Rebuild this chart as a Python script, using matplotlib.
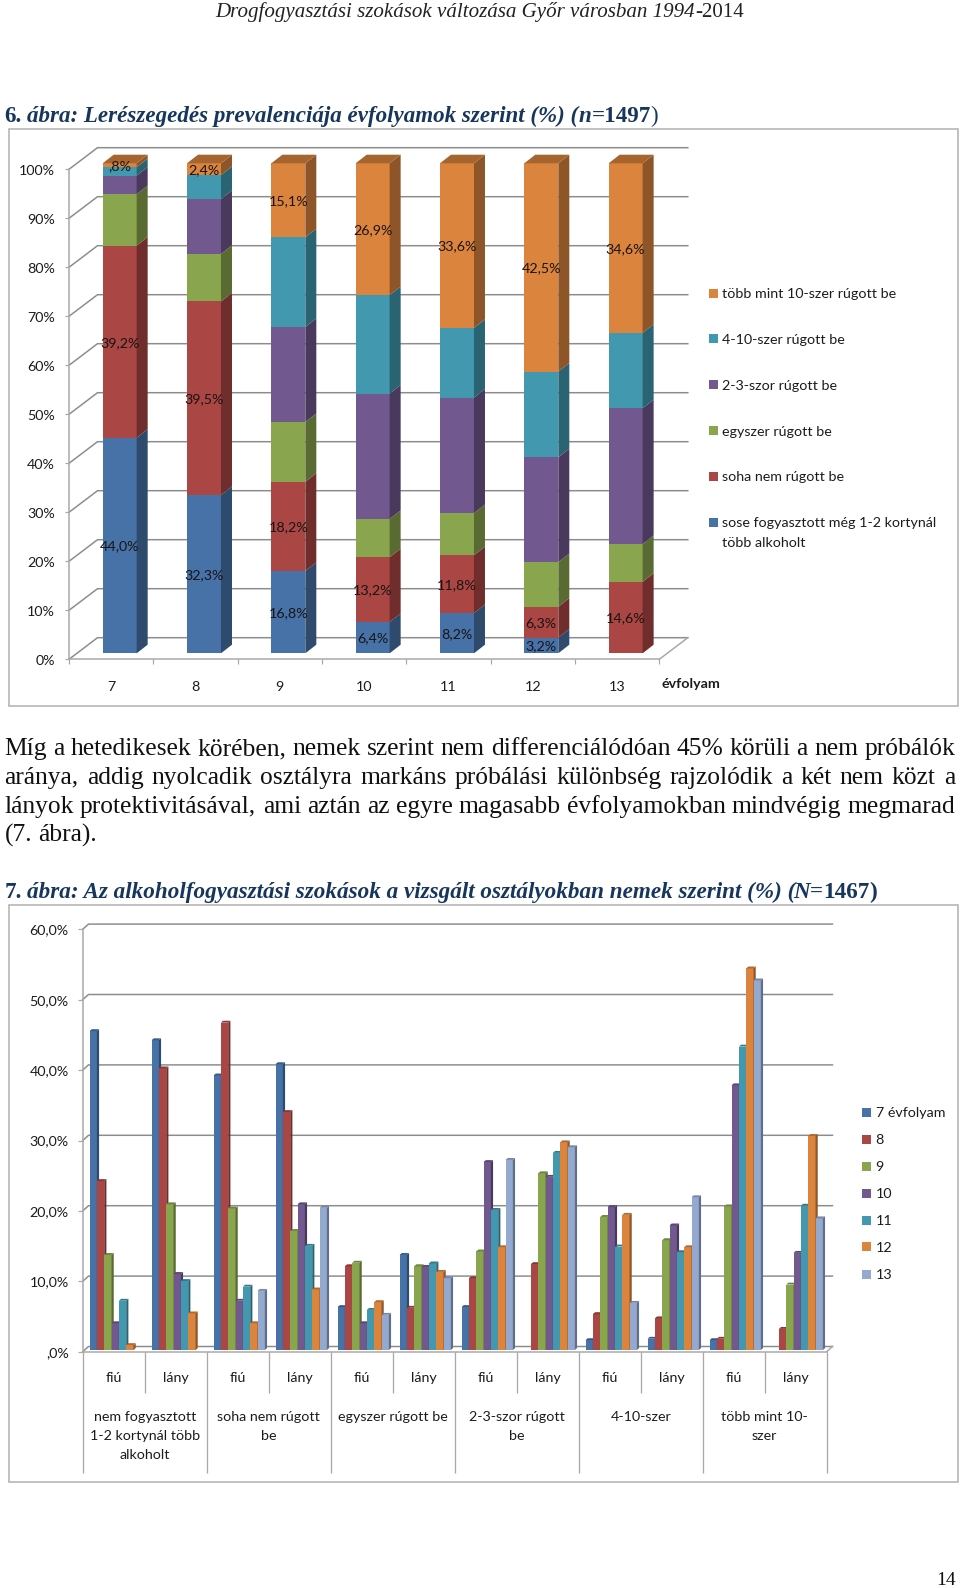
import matplotlib
matplotlib.use("Agg")
import matplotlib.pyplot as plt
import numpy as np
from matplotlib.font_manager import FontProperties
from matplotlib.patches import Polygon, Rectangle
from matplotlib.textpath import TextPath
from matplotlib.transforms import Affine2D

W, H = 960, 1588
PT = 0.72  # points per pixel at dpi 100

# ---------- chart 1 data (stacked, %) ----------
grades = ["7", "8", "9", "10", "11", "12", "13"]
sose = [44.0, 32.3, 16.8, 6.4, 8.2, 3.2, 0.0]
soha = [39.2, 39.5, 18.2, 13.2, 11.8, 6.3, 14.6]
egyszer = [10.5, 9.7, 12.2, 7.8, 8.6, 9.1, 7.7]
ketharom = [3.8, 11.2, 19.4, 25.6, 23.6, 21.4, 27.7]
negytiz = [1.7, 4.9, 18.3, 20.1, 14.2, 17.5, 15.4]
tobbmint = [0.8, 2.4, 15.1, 26.9, 33.6, 42.5, 34.6]
legend1_names = ["több mint 10-szer rúgott be", "4-10-szer rúgott be", "2-3-szor rúgott be",
                 "egyszer rúgott be", "soha nem rúgott be", "sose fogyasztott még 1-2 kortynál"]
legend1_extra = "több alkoholt"
yticks1 = [0, 10, 20, 30, 40, 50, 60, 70, 80, 90, 100]

# ---------- chart 2 data (grouped, %) ----------
sex = ["fiú", "lány"] * 6
groups = ["nem fogyasztott\n1-2 kortynál több\nalkoholt", "soha nem rúgott\nbe", "egyszer rúgott be",
          "2-3-szor rúgott\nbe", "4-10-szer", "több mint 10-\nszer"]
g7 = [45.3, 44.0, 39.0, 40.6, 6.1, 13.5, 6.1, 0.0, 1.4, 1.6, 1.4, 0.0]
g8 = [24.0, 40.0, 46.5, 33.8, 11.9, 6.0, 10.2, 12.2, 5.1, 4.5, 1.6, 3.0]
g9 = [13.5, 20.7, 20.1, 16.9, 12.4, 11.9, 14.0, 25.1, 18.9, 15.6, 20.4, 9.3]
g10 = [3.8, 10.8, 7.0, 20.7, 3.8, 11.8, 26.7, 24.6, 20.3, 17.7, 37.6, 13.8]
g11 = [7.0, 9.8, 9.0, 14.8, 5.7, 12.3, 19.9, 28.0, 14.7, 13.9, 43.1, 20.5]
g12 = [0.7, 5.2, 3.8, 8.6, 6.8, 11.1, 14.6, 29.5, 19.2, 14.6, 54.2, 30.4]
g13 = [0.0, 0.0, 8.4, 20.2, 5.0, 10.2, 27.0, 28.8, 6.7, 21.7, 52.5, 18.7]
legend2_names = ["7 évfolyam", "8", "9", "10", "11", "12", "13"]
yticks2 = [0, 10, 20, 30, 40, 50, 60]
yticklabels2 = [",0%", "10,0%", "20,0%", "30,0%", "40,0%", "50,0%", "60,0%"]

# ---------- text ----------
header_runs = [("Drogfogyasztási szokások változása Győr városban 1994", "i"), ("-2014", "r")]
title1_runs = [("6.", "b"), (" ábra: Lerészegedés prevalenciája évfolyamok szerint (%) (", "bi"),
               ("n", "bi"), ("=1497", "b"), (")", "r")]
title2_runs = [("7.", "b"), (" ábra: Az alkoholfogyasztási szokások a vizsgált osztályokban nemek szerint (%) (", "bi"),
               ("N=", "bi"), ("1467", "b"), (")", "b")]
para_lines = ["Míg a hetedikesek körében, nemek szerint nem differenciálódóan 45% körüli a nem próbálók",
              "aránya, addig nyolcadik osztályra markáns próbálási különbség rajzolódik a két nem közt a",
              "lányok protektivitásával, ami aztán az egyre magasabb évfolyamokban mindvégig megmarad",
              "(7. ábra)."]

# ---------- colours ----------
BLUE, RED, GREEN, PURPLE, TEAL, ORANGE, LBLUE = ("#4672A8", "#AA4643", "#89A54E", "#71588F",
                                                 "#4198AF", "#DB843D", "#93A9CF")
GRID = "#8c8c8c"
AXIS = "#a8a8a8"
TXT = "#1c1c1c"
TITLE = "#17365D"


def shade(c, f):
    r = np.array(matplotlib.colors.to_rgb(c)) * f
    return tuple(r)


def fp(kind):
    return FontProperties(family="Liberation Serif",
                          style="italic" if "i" in kind else "normal",
                          weight="bold" if "b" in kind else "normal")


def adv(s, kind="r", size=100.0, prop=None):
    p = prop or fp(kind)
    a = TextPath((0, 0), "x" + s + "x", size=size, prop=p).get_extents().width
    b = TextPath((0, 0), "xx", size=size, prop=p).get_extents().width
    return a - b


def fit_runs(runs, target):
    return 100.0 * target / sum(adv(s, k) for s, k in runs)


CAL = FontProperties(family="Lato")
CAL_PX = 100.0 * 174.0 / adv(legend1_names[0], prop=CAL)
CAL_PT = CAL_PX * PT

fig = plt.figure(figsize=(W / 100, H / 100), dpi=100, facecolor="white")
page = fig.add_axes([0, 0, 1, 1], zorder=0)
page.set_xlim(0, W)
page.set_ylim(H, 0)
page.axis("off")


def draw_runs(x, y, runs, size, color):
    for s, k in runs:
        page.text(x + (adv(" ", k, size) if s.startswith(" ") else 0), y, s.strip(), fontproperties=fp(k),
                  fontsize=size * PT, color=color, ha="left", va="baseline")
        x += adv(s, k, size)


draw_runs(215, 16.7, header_runs, fit_runs(header_runs, 529), "#222222")
draw_runs(4.3, 121.7, title1_runs, fit_runs(title1_runs, 654), TITLE)
draw_runs(4.3, 898.3, title2_runs, fit_runs(title2_runs, 873), TITLE)

BODY = 1.04 * 100.0 * 89.3 / adv(para_lines[3])
for line, base, just in zip(para_lines, [755, 784, 812.7, 842], [True, True, True, False]):
    words = line.split(" ")
    ww = [adv(w, "r", BODY) for w in words]
    gap = (955 - 4.5 - sum(ww)) / (len(words) - 1) if just else adv(" ", "r", BODY)
    x = 4.5
    for w, wd in zip(words, ww):
        page.text(x, base, w, fontproperties=fp("r"), fontsize=BODY * PT, color="#111111", ha="left", va="baseline")
        x += wd + gap
page.text(936, 1585, "14", fontproperties=fp("r"), fontsize=19.5 * PT, color="#111111", ha="left", va="baseline")

# frames
for top, bot in [(129, 706), (904.7, 1482.3)]:
    page.add_patch(Rectangle((8.5, top), 958.3 - 8.5, bot - top, fc="white", ec="#b4b4b4", lw=1.6 * PT))


def chart_text(x, y, s, **kw):
    page.text(x, y, s, fontproperties=CAL, fontsize=CAL_PT, color=TXT, va="center_baseline", **kw)


def legend_rows(x, ys, names, colors, tx):
    for y, n, c in zip(ys, names, colors):
        page.add_patch(Rectangle((x, y - 4.5), 9, 9, fc=c, ec="none"))
        chart_text(tx, y, n, ha="left")


# ---------- chart 1 ----------
x0, x1, y0, y100 = 69.0, 659.3, 659.3, 169.3
ax = fig.add_axes([x0 / W, 1 - y0 / H, (x1 - x0) / W, (y0 - y100) / H], zorder=2)
ax.patch.set_visible(False)
ax.set_xlim(0, len(grades))
ax.set_ylim(0, 100)
sx = (x1 - x0) / len(grades)
sy = (y0 - y100) / 100
wx, wy = 28.5 / sx, 21.6 / sy
for v in yticks1:
    ax.plot([0, wx, len(grades) + wx], [v, v + wy, v + wy], color=GRID, lw=1.5 * PT, clip_on=False, zorder=1,
            solid_joinstyle="miter")
ax.plot([len(grades), len(grades) + wx], [0, wy], color=AXIS, lw=1.5 * PT, clip_on=False, zorder=1)

T = ax.transData + Affine2D().translate(8.5, 6.0)
dx, dy = 11.0 / sx, 8.6 / sy
bw = 34.0 / sx
xpos = np.arange(len(grades)) + 0.5
stack = [sose, soha, egyszer, ketharom, negytiz, tobbmint]
cols1 = [BLUE, RED, GREEN, PURPLE, TEAL, ORANGE]
bottom = np.zeros(len(grades))
for vals, c, lab in zip(stack, cols1, [1, 1, 0, 0, 0, 1]):
    vals = np.array(vals)
    ax.bar(xpos, vals, width=bw, bottom=bottom, color=c, linewidth=0, transform=T, zorder=3, clip_on=False)
    for xi, b, v in zip(xpos, bottom, vals):
        if v <= 0:
            continue
        r = xi + bw / 2
        ax.add_patch(Polygon([(r, b), (r + dx, b + dy), (r + dx, b + v + dy), (r, b + v)], closed=True,
                             fc=shade(c, 0.65), ec="none", transform=T, zorder=3, clip_on=False))
        if lab:
            s = f"{v:.1f}".replace(".", ",")
            s = s[1:] if s.startswith("0") else s
            ax.text(xi, b + v / 2, s + "%", fontproperties=CAL, fontsize=CAL_PT, color="#1a1414", ha="center",
                    va="center_baseline", transform=T, zorder=5, clip_on=False)
    bottom = bottom + vals
for xi, t in zip(xpos, bottom):
    l, r = xi - bw / 2, xi + bw / 2
    ax.add_patch(Polygon([(l, t), (r, t), (r + dx, t + dy), (l + dx, t + dy)], closed=True, fc=shade(ORANGE, 0.76),
                         ec="none", transform=T, zorder=3, clip_on=False))

for s in ("top", "right"):
    ax.spines[s].set_visible(False)
for s in ("left", "bottom"):
    ax.spines[s].set_color(AXIS)
    ax.spines[s].set_linewidth(1.5 * PT)
ax.set_yticks(yticks1, [f"{v}%" for v in yticks1])
ax.set_xticks(np.arange(len(grades) + 1), [""] * (len(grades) + 1))
ax.set_xticks(xpos, grades, minor=True)
ax.tick_params(axis="y", length=4 * PT, width=1.2 * PT, color=AXIS, pad=10 * PT, labelcolor=TXT, labelsize=CAL_PT,
               labelfontfamily="Lato")
ax.tick_params(axis="x", which="major", length=5 * PT, width=1.2 * PT, color=AXIS)
ax.tick_params(axis="x", which="minor", length=0, pad=22 * PT, labelcolor=TXT, labelsize=CAL_PT,
               labelfontfamily="Lato")
for t in ax.get_yticklabels():
    t.set_transform(t.get_transform() + Affine2D().translate(0, -1))
page.text(661.7, 682.7, "évfolyam", family="Lato", weight="bold", fontsize=CAL_PT, color=TXT, va="center_baseline")
legend_rows(708.7, [293, 338.7, 384.7, 430.7, 476, 522], legend1_names, cols1[::-1], 722.3)
chart_text(722.3, 541.7, legend1_extra, ha="left")

# ---------- chart 2 ----------
x0, x1, y0, y60 = 82.7, 826.7, 1351.7, 929.3
ax2 = fig.add_axes([x0 / W, 1 - y0 / H, (x1 - x0) / W, (y0 - y60) / H], zorder=2)
ax2.patch.set_visible(False)
ax2.set_xlim(0, len(sex))
ax2.set_ylim(0, 60)
sx = (x1 - x0) / len(sex)
sy = (y0 - y60) / 60
wx, wy = 5.8 / sx, 5.2 / sy
for v in yticks2:
    ax2.plot([0, wx, len(sex) + wx], [v, v + wy, v + wy], color=GRID, lw=1.5 * PT, clip_on=False, zorder=1,
             solid_joinstyle="miter")
ax2.plot([len(sex), len(sex) + wx], [0, wy], color=AXIS, lw=1.5 * PT, clip_on=False, zorder=1)

T2 = ax2.transData + Affine2D().translate(1.5, 1.7)
series2 = [g7, g8, g9, g10, g11, g12, g13]
cols2 = [BLUE, RED, GREEN, PURPLE, TEAL, ORANGE, LBLUE]
bw2 = 7.33 / sx
dx2, dy2 = 2.2 / sx, 1.9 / sy
cat = np.arange(len(sex)) + 0.5
for i, (vals, c) in enumerate(zip(series2, cols2)):
    xs = cat + (i - 3) * bw2
    z = 3 + i
    ax2.bar(xs, vals, width=bw2, color=c, linewidth=0, transform=T2, zorder=z, clip_on=False)
    for xi, v in zip(xs, vals):
        if v <= 0:
            continue
        l, r = xi - bw2 / 2, xi + bw2 / 2
        ax2.add_patch(Polygon([(r, 0), (r + dx2, dy2), (r + dx2, v + dy2), (r, v)], closed=True, fc=shade(c, 0.65),
                              ec="none", transform=T2, zorder=z, clip_on=False))
        ax2.add_patch(Polygon([(l, v), (r, v), (r + dx2, v + dy2), (l + dx2, v + dy2)], closed=True, fc=shade(c, 0.8),
                              ec="none", transform=T2, zorder=z, clip_on=False))

for s in ("top", "right"):
    ax2.spines[s].set_visible(False)
for s in ("left", "bottom"):
    ax2.spines[s].set_color(AXIS)
    ax2.spines[s].set_linewidth(1.5 * PT)
ax2.set_yticks(yticks2, yticklabels2)
ax2.tick_params(axis="y", length=5 * PT, width=1.2 * PT, color=AXIS, pad=9 * PT, labelcolor=TXT, labelsize=CAL_PT,
                labelfontfamily="Lato")
ax2.set_xticks(cat, sex)
ax2.tick_params(axis="x", length=0, pad=20 * PT, labelcolor=TXT, labelsize=CAL_PT, labelfontfamily="Lato")
short, tall = 41.0 / sy, 121.6 / sy
ax2.vlines(np.arange(1, len(sex), 2), -short, 0, color=AXIS, lw=1.3 * PT, clip_on=False)
ax2.vlines(np.arange(0, len(sex) + 1, 2), -tall, 0, color=AXIS, lw=1.3 * PT, clip_on=False)
for j, g in enumerate(groups):
    ax2.annotate(g, xy=(2 * j + 1, 0), xycoords="data", xytext=(0, -59.5 * PT), textcoords="offset points",
                 ha="center", va="top", multialignment="center", fontproperties=CAL, fontsize=CAL_PT, color=TXT,
                 linespacing=1.7, annotation_clip=False)
legend_rows(862.3, [1112.3, 1139, 1166, 1193, 1220, 1246.7, 1274], legend2_names, cols2, 875.7)

fig.savefig("out.png", dpi=100)
